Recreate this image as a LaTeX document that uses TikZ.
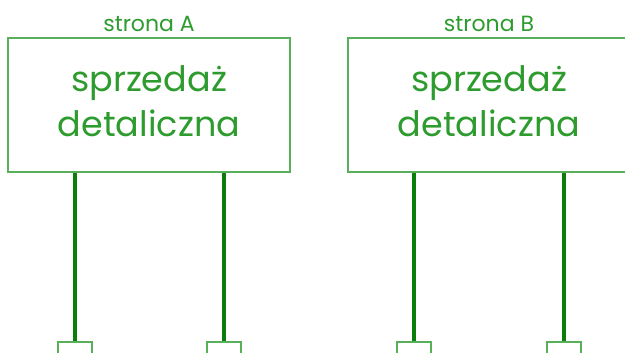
\documentclass[tikz,border=0pt]{standalone}
\usepackage{fontspec}
\setmainfont{Poppins}
\definecolor{boxgreen}{RGB}{90,175,90}
\definecolor{txtgreen}{RGB}{45,155,45}
\definecolor{leggreen}{RGB}{10,125,10}
\begin{document}
\begin{tikzpicture}[x=1pt,y=-1pt,
  panel/.style={draw=boxgreen,line width=1.6pt,minimum width=282pt,minimum height=134pt,inner sep=0pt},
  bigtext/.style={text=txtgreen,font=\fontsize{35}{44}\selectfont,anchor=base,inner sep=0pt},
  side/.style={text=txtgreen,font=\fontsize{22}{24}\selectfont,anchor=base,inner sep=0pt},
  foot/.style={draw=boxgreen,line width=1.2pt,minimum width=34pt,minimum height=20pt,inner sep=0pt,fill=white},
  leg/.style={draw=leggreen,line width=4.5pt}]
\useasboundingbox (0,0) rectangle (625,353);
\begin{scope}
\clip (0,0) rectangle (625,353);
\node[panel] (A) at (149,105) {};
\node[panel] (B) at (489,105) {};
\node[side] (la) at (149,32) {strona A};
\node[side] (lb) at (489,32) {strona B};
\node[bigtext] (ta1) at (149,92) {sprzedaż};
\node[bigtext] (ta2) at (149,137) {detaliczna};
\node[bigtext] (tb1) at (489,92) {sprzedaż};
\node[bigtext] (tb2) at (489,137) {detaliczna};
\node[foot] (fa1) at (75,352) {};
\node[foot] (fa2) at (224,352) {};
\node[foot] (fb1) at (414,352) {};
\node[foot] (fb2) at (564,352) {};
\draw[leg] (A.south -| fa1) -- (fa1.north);
\draw[leg] (A.south -| fa2) -- (fa2.north);
\draw[leg] (B.south -| fb1) -- (fb1.north);
\draw[leg] (B.south -| fb2) -- (fb2.north);
\end{scope}
\end{tikzpicture}
\end{document}
